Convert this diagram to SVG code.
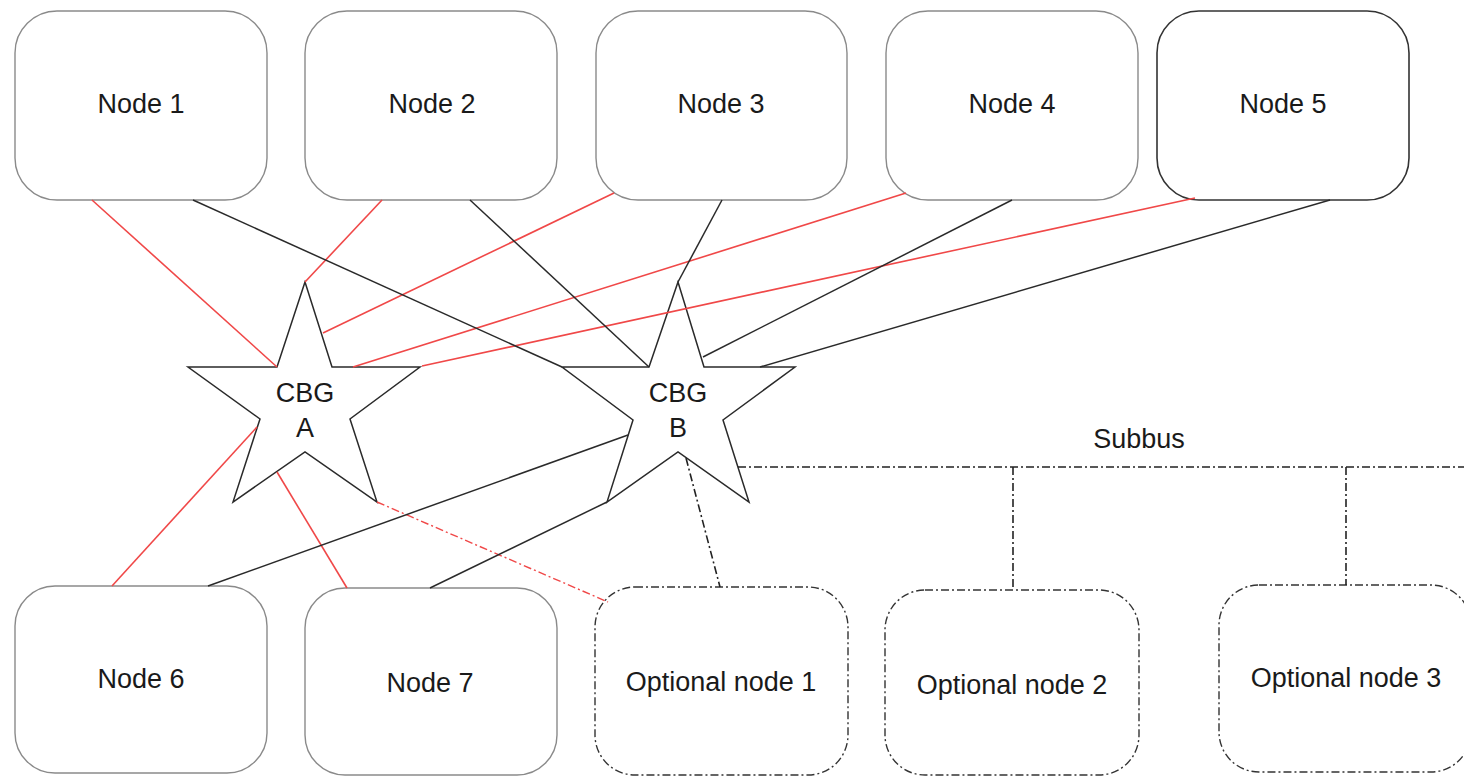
<svg xmlns="http://www.w3.org/2000/svg" width="1464" height="777" viewBox="0 0 1464 777">
<style>
.node{fill:#fff;stroke:#8a8a8a;stroke-width:1.4}
.dark{stroke:#333;stroke-width:1.6}
.opt{fill:#fff;stroke:#333;stroke-width:1.4;stroke-dasharray:8 3 2 3}
.star{fill:#fff;stroke:#2a2a2a;stroke-width:1.5;stroke-linejoin:miter}
.t{font-family:"Liberation Sans",Arial,sans-serif;font-size:27px;fill:#1a1a1a;text-anchor:middle}
.red{stroke:#f04848;stroke-width:1.6;fill:none}
.blk{stroke:#2a2a2a;stroke-width:1.5;fill:none}
.rdd{stroke:#f04848;stroke-width:1.4;fill:none;stroke-dasharray:8 3 2 3}
.bdd{stroke:#222;stroke-width:1.6;fill:none;stroke-dasharray:8 3 2 3}
</style>
<rect width="1464" height="777" fill="#fff"/>
<g id="node1"><rect class="node" x="15" y="11" width="252" height="189" rx="42"/><text class="t" x="141" y="113">Node 1</text></g>
<g id="node2"><rect class="node" x="305" y="11" width="252" height="189" rx="42"/><text class="t" x="432" y="113">Node 2</text></g>
<g id="node3"><rect class="node" x="596" y="11" width="251" height="189" rx="42"/><text class="t" x="721" y="113">Node 3</text></g>
<g id="node4"><rect class="node" x="886" y="11" width="252" height="189" rx="42"/><text class="t" x="1012" y="113">Node 4</text></g>
<g id="node5"><rect class="node dark" x="1157" y="11" width="252" height="189" rx="42"/><text class="t" x="1283" y="113">Node 5</text></g>
<g id="node6"><rect class="node" x="15" y="586" width="252" height="187" rx="40"/><text class="t" x="141" y="688">Node 6</text></g>
<g id="node7"><rect class="node" x="305" y="588" width="252" height="187" rx="40"/><text class="t" x="430" y="692">Node 7</text></g>
<g id="opt1"><rect class="opt" x="595" y="587" width="253" height="188" rx="40"/><text class="t" x="721" y="691">Optional node 1</text></g>
<g id="opt2"><rect class="opt" x="885" y="590" width="254" height="185" rx="40"/><text class="t" x="1012" y="694">Optional node 2</text></g>
<g id="opt3"><rect class="opt" x="1219" y="585" width="252" height="187" rx="40"/><text class="t" x="1346" y="687">Optional node 3</text></g>
<g id="cbgA"><polygon class="star" points="305,282 332,367 420,367 350,419 377,502 305,452 233,502 260,419 188,367 277,367"/><text class="t" x="305" y="402">CBG</text><text class="t" x="305" y="437">A</text></g>
<g id="cbgB"><polygon class="star" points="678,282 704,367 795,367 723,420 749,502 678,452 607,502 633,420 562,367 649,367"/><text class="t" x="678" y="402">CBG</text><text class="t" x="678" y="437">B</text></g>
<g id="subbus-label"><text class="t" x="1139" y="448">Subbus</text></g>
<g id="connectors">
<line class="red" x1="92" y1="200" x2="277" y2="367"/>
<line class="red" x1="382" y1="200" x2="305" y2="282"/>
<line class="red" x1="614" y1="193" x2="323" y2="333"/>
<line class="red" x1="906" y1="193" x2="353" y2="367"/>
<line class="red" x1="1195" y1="198" x2="422" y2="366"/>
<line class="blk" x1="193" y1="200" x2="562" y2="367"/>
<line class="blk" x1="470" y1="200" x2="649" y2="367"/>
<line class="blk" x1="722" y1="200" x2="678" y2="282"/>
<line class="blk" x1="1012" y1="200" x2="703" y2="357"/>
<line class="blk" x1="1330" y1="200" x2="760" y2="367"/>
<line class="red" x1="257" y1="427" x2="112" y2="586"/>
<line class="red" x1="277" y1="472" x2="347" y2="588"/>
<line class="rdd" x1="377" y1="502" x2="608" y2="602"/>
<line class="blk" x1="628" y1="435" x2="208" y2="586"/>
<line class="blk" x1="607" y1="502" x2="430" y2="588"/>
<line class="bdd" x1="686" y1="458" x2="720" y2="587"/>
<line class="bdd" x1="738" y1="467" x2="1464" y2="467"/>
<line class="bdd" x1="1013" y1="467" x2="1013" y2="590"/>
<line class="bdd" x1="1346" y1="467" x2="1346" y2="585"/>
</g>
</svg>
